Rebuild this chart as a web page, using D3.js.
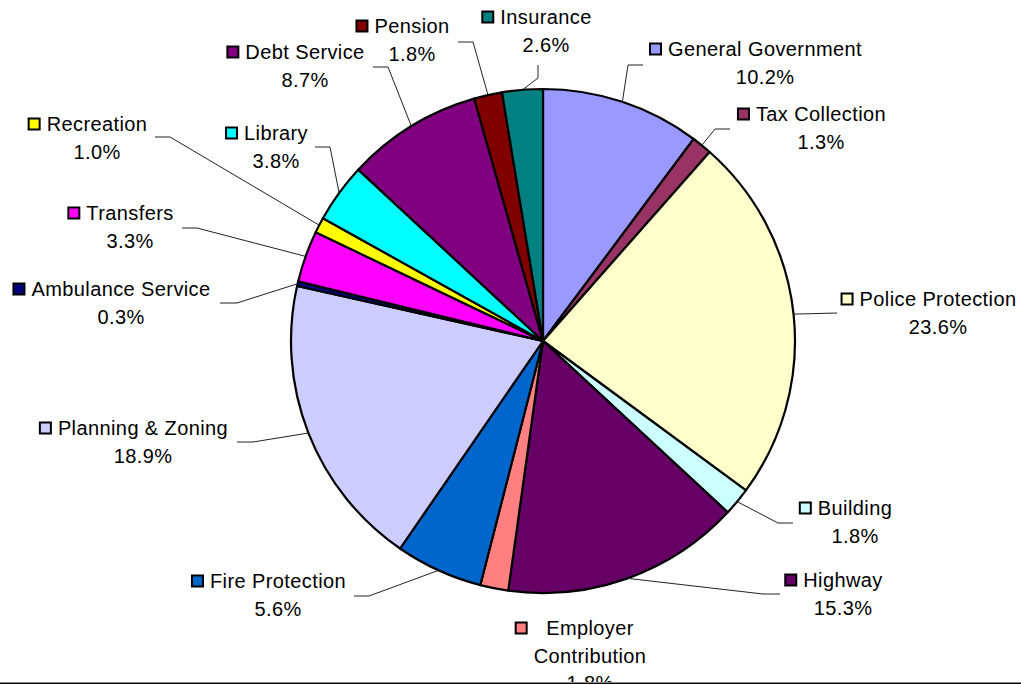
<!DOCTYPE html>
<html>
<head>
<meta charset="utf-8">
<script src="https://cdn.jsdelivr.net/npm/d3@7"></script>
<style>
  html, body { margin: 0; padding: 0; background: #fff; }
  svg { display: block; }
  .label { font-family: "Liberation Sans", Arial, sans-serif; font-size: 20px; letter-spacing: 0.4px; fill: #000; }
  .leader { stroke: #222; stroke-width: 1; fill: none; }
</style>
</head>
<body>
<svg id="chart"></svg>
<script>
const width = 1021;
const height = 684;

// Budget categories, clockwise from 12 o'clock
const categories = [
    'General Government', 'Tax Collection', 'Police Protection', 'Building',
    'Highway', 'Employer Contribution', 'Fire Protection', 'Planning & Zoning',
    'Ambulance Service', 'Transfers', 'Recreation', 'Library',
    'Debt Service', 'Pension', 'Insurance'
];
const shares = [10.2, 1.3, 23.6, 1.8, 15.3, 1.8, 5.6, 18.9, 0.3, 3.3, 1.0, 3.8, 8.7, 1.8, 2.6];
const colors = [
    '#9999ff', '#993366', '#ffffcc', '#ccffff', '#660066', '#ff8080', '#0066cc', '#ccccff',
    '#000080', '#ff00ff', '#ffff00', '#00ffff', '#800080', '#800000', '#008080'
];
// label text lines (name may wrap)
const labelLines = categories.map(c =>
    c === 'Employer Contribution' ? ['Employer', 'Contribution'] : [c]);

// Label layout: text centre x, first line centre y, leader elbow + end (null = no leader)
const labelPos = [
    [765, 49, [628, 65, 643, 65]],
    [821, 114, [715, 129, 730, 129]],
    [938, 299, [837, 313, 837, 313]],
    [855, 508, [778, 523, 793, 523]],
    [843, 580, [763, 594, 780, 594]],
    [590, 628, null],
    [278, 581, [369, 596, 354, 596]],
    [143, 428, [253, 442, 237, 442]],
    [121, 289, [237, 303, 220, 303]],
    [130, 213, [197, 228, 182, 228]],
    [97, 124, [170, 137, 155, 137]],
    [276, 133, [330, 147, 315, 147]],
    [305, 52, [388, 67, 373, 67]],
    [412, 26, [473, 42, 458, 42]],
    [546, 17, [538, 78, 538, 65]]
];

const cx = 543, cy = 341, radius = 252;
const lineGap = 27.5;

const svg = d3.select('#chart')
    .attr('width', width)
    .attr('height', height);

const pie = d3.pie().sort(null).value(d => d)(shares);
const arc = d3.arc().innerRadius(0).outerRadius(radius);

const pieGroup = svg.append('g').attr('transform', `translate(${cx},${cy})`);
pieGroup.selectAll('path')
    .data(pie)
    .enter()
    .append('path')
    .attr('d', arc)
    .attr('fill', (d, i) => colors[i])
    .attr('stroke', '#000')
    .attr('stroke-width', 2.2)
    .attr('stroke-linejoin', 'round');

// Leader lines
const leaderGroup = svg.append('g');
pie.forEach((d, i) => {
    const lp = labelPos[i][2];
    if (!lp) return;
    const a = (d.startAngle + d.endAngle) / 2;
    const px = cx + radius * Math.sin(a);
    const py = cy - radius * Math.cos(a);
    leaderGroup.append('polyline')
        .attr('class', 'leader')
        .attr('points', `${px},${py} ${lp[0]},${lp[1]} ${lp[2]},${lp[3]}`);
});

// Labels
const labelGroup = svg.append('g');
categories.forEach((c, i) => {
    const [lx, ly] = labelPos[i];
    const lines = labelLines[i].concat([shares[i].toFixed(1) + '%']);
    const g = labelGroup.append('g');
    let maxW = 0;
    lines.forEach((t, j) => {
        const txt = g.append('text')
            .attr('class', 'label')
            .attr('x', lx)
            .attr('y', ly + j * lineGap)
            .attr('dy', '0.35em')
            .attr('text-anchor', 'middle')
            .text(t);
        maxW = Math.max(maxW, txt.node().getComputedTextLength());
    });
    // legend key before the block
    g.append('rect')
        .attr('x', lx - maxW / 2 - 18)
        .attr('y', ly - 5.5)
        .attr('width', 11)
        .attr('height', 11)
        .attr('fill', colors[i])
        .attr('stroke', '#000')
        .attr('stroke-width', 2);
});

// bottom border
svg.append('rect').attr('x', 0).attr('y', 682).attr('width', width).attr('height', 1).attr('fill', '#888');
svg.append('rect').attr('x', 0).attr('y', 683).attr('width', width).attr('height', 1).attr('fill', '#000');
</script>
</body>
</html>
